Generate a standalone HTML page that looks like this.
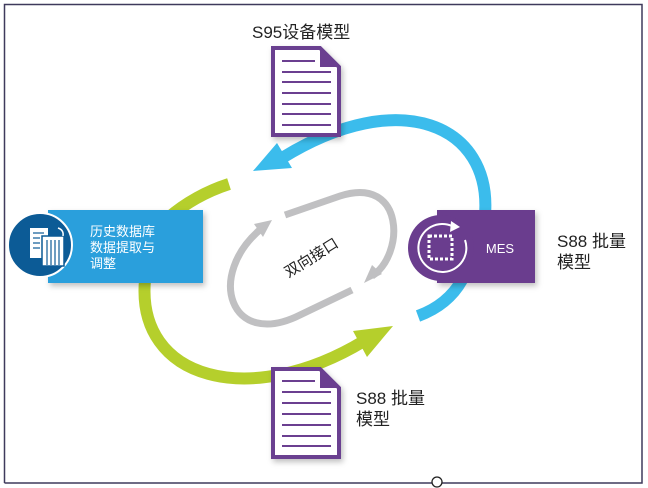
<!DOCTYPE html>
<html><head><meta charset="utf-8"><style>
html,body{margin:0;padding:0;background:#fff;}
body{width:648px;height:488px;overflow:hidden;position:relative;font-family:"Liberation Sans","Noto Sans CJK SC",sans-serif;}
</style></head><body>
<svg width="648" height="488" viewBox="0 0 648 488" xmlns="http://www.w3.org/2000/svg" style="position:absolute;left:0;top:0">
<defs>
<filter id="sh" x="-20%" y="-20%" width="150%" height="150%"><feDropShadow dx="2" dy="3" stdDeviation="3" flood-color="#000" flood-opacity="0.25"/></filter>
</defs>
<path d="M4.5 483 V4.5 H642 V483 H4.5" fill="none" stroke="#3f3a5c" stroke-width="1.5"/>
<circle cx="437" cy="482" r="5" fill="#fff" stroke="#222" stroke-width="1.3"/>

<path d="M485 215 C492 125 400 85 282 158" fill="none" stroke="#3bbcec" stroke-width="12"/>
<polygon points="253,171 277,143 292,168" fill="#3bbcec"/>
<path d="M462 280 Q448 305 418 316" fill="none" stroke="#3bbcec" stroke-width="12"/>

<path d="M229 184 Q195 195 168 218" fill="none" stroke="#b5cf2c" stroke-width="12"/>
<path d="M145 280 C136 380 250 410 364 341" fill="none" stroke="#b5cf2c" stroke-width="12"/>
<polygon points="393,326 353,331 367,357" fill="#b5cf2c"/>

<g fill="none" stroke="#c0c0c2" stroke-width="7">
<path d="M285 215 L340 196 C405 175 405 255 372 276"/>
<path d="M352 290 L300 315 C230 350 205 275 262 228"/>
</g>
<polygon points="364,283 372,265 382,274" fill="#c0c0c2"/>
<polygon points="272,220 254,224 263,237" fill="#c0c0c2"/>
<text x="0" y="0" transform="translate(314 262) rotate(-32)" font-size="15" text-anchor="middle" fill="#222" font-family="Liberation Sans,Noto Sans CJK SC,sans-serif">双向接口</text>

<g filter="url(#sh)">
<path d="M273 48 H320 L339 67 V135 H273 Z" fill="#fff" stroke="#6b3f90" stroke-width="4"/>
<path d="M273 369 H320 L339 388 V457 H273 Z" fill="#fff" stroke="#6b3f90" stroke-width="4"/>
</g>
<path d="M320 48 V67 H339 Z" fill="#6b3f90"/>
<path d="M320 369 V388 H339 Z" fill="#6b3f90"/>
<g stroke="#6b3f90" stroke-width="2">
<line x1="282" y1="61" x2="315" y2="61"/><line x1="282" y1="72" x2="331" y2="72"/><line x1="282" y1="82" x2="331" y2="82"/><line x1="282" y1="93" x2="331" y2="93"/><line x1="282" y1="104" x2="331" y2="104"/><line x1="282" y1="114" x2="331" y2="114"/><line x1="282" y1="125" x2="331" y2="125"/>
<line x1="282" y1="381" x2="315" y2="381"/><line x1="282" y1="392" x2="331" y2="392"/><line x1="282" y1="403" x2="331" y2="403"/><line x1="282" y1="414" x2="331" y2="414"/><line x1="282" y1="425" x2="331" y2="425"/><line x1="282" y1="436" x2="331" y2="436"/><line x1="282" y1="446" x2="331" y2="446"/>
</g>

<rect x="48" y="210" width="155" height="73" fill="#2c9fdc" filter="url(#sh)"/>
<circle cx="40" cy="245" r="32" fill="#0c5b96" stroke="#fff" stroke-width="2"/>
<g fill="#fff">
<rect x="30" y="228" width="18" height="30"/>
<rect x="42" y="236" width="22" height="30" stroke="#0c5b96" stroke-width="1.5"/>
</g>
<g stroke="#0c5b96" stroke-width="1.2">
<line x1="33" y1="233" x2="44" y2="233"/><line x1="33" y1="238" x2="40" y2="238"/><line x1="33" y1="243" x2="40" y2="243"/><line x1="33" y1="248" x2="40" y2="248"/>
<line x1="47" y1="240" x2="47" y2="265"/><line x1="51" y1="240" x2="51" y2="265"/><line x1="55" y1="240" x2="55" y2="265"/><line x1="59" y1="240" x2="59" y2="265"/>
</g>
<path d="M58 228 q6 2 5 8" fill="none" stroke="#fff" stroke-width="1.5"/>
<text fill="#fff" font-size="13" font-family="Liberation Sans,Noto Sans CJK SC,sans-serif"><tspan x="90" y="236">历史数据库</tspan><tspan x="90" y="252">数据提取与</tspan><tspan x="90" y="268">调整</tspan></text>

<rect x="437" y="210" width="98" height="73" fill="#6a3d8e" filter="url(#sh)"/>
<circle cx="441" cy="248" r="33" fill="#6a3d8e"/>
<path d="M465 240 A24 24 0 1 1 452 226" fill="none" stroke="#fff" stroke-width="2"/>
<polygon points="451,221 460,227 450,232" fill="#fff"/>
<rect x="429" y="236" width="23" height="23" fill="none" stroke="#fff" stroke-width="3" stroke-dasharray="3 2"/>
<text x="500" y="253" fill="#fff" font-size="13" text-anchor="middle">MES</text>

<text fill="#222" font-size="17" font-family="Liberation Sans,Noto Sans CJK SC,sans-serif"><tspan x="557" y="247">S88 批量</tspan><tspan x="557" y="268">模型</tspan></text>
<text fill="#222" font-size="17" font-family="Liberation Sans,Noto Sans CJK SC,sans-serif"><tspan x="356" y="404">S88 批量</tspan><tspan x="356" y="425">模型</tspan></text>
<text x="252" y="38" fill="#222" font-size="17" font-family="Liberation Sans,Noto Sans CJK SC,sans-serif">S95设备模型</text>
</svg>
</body></html>
